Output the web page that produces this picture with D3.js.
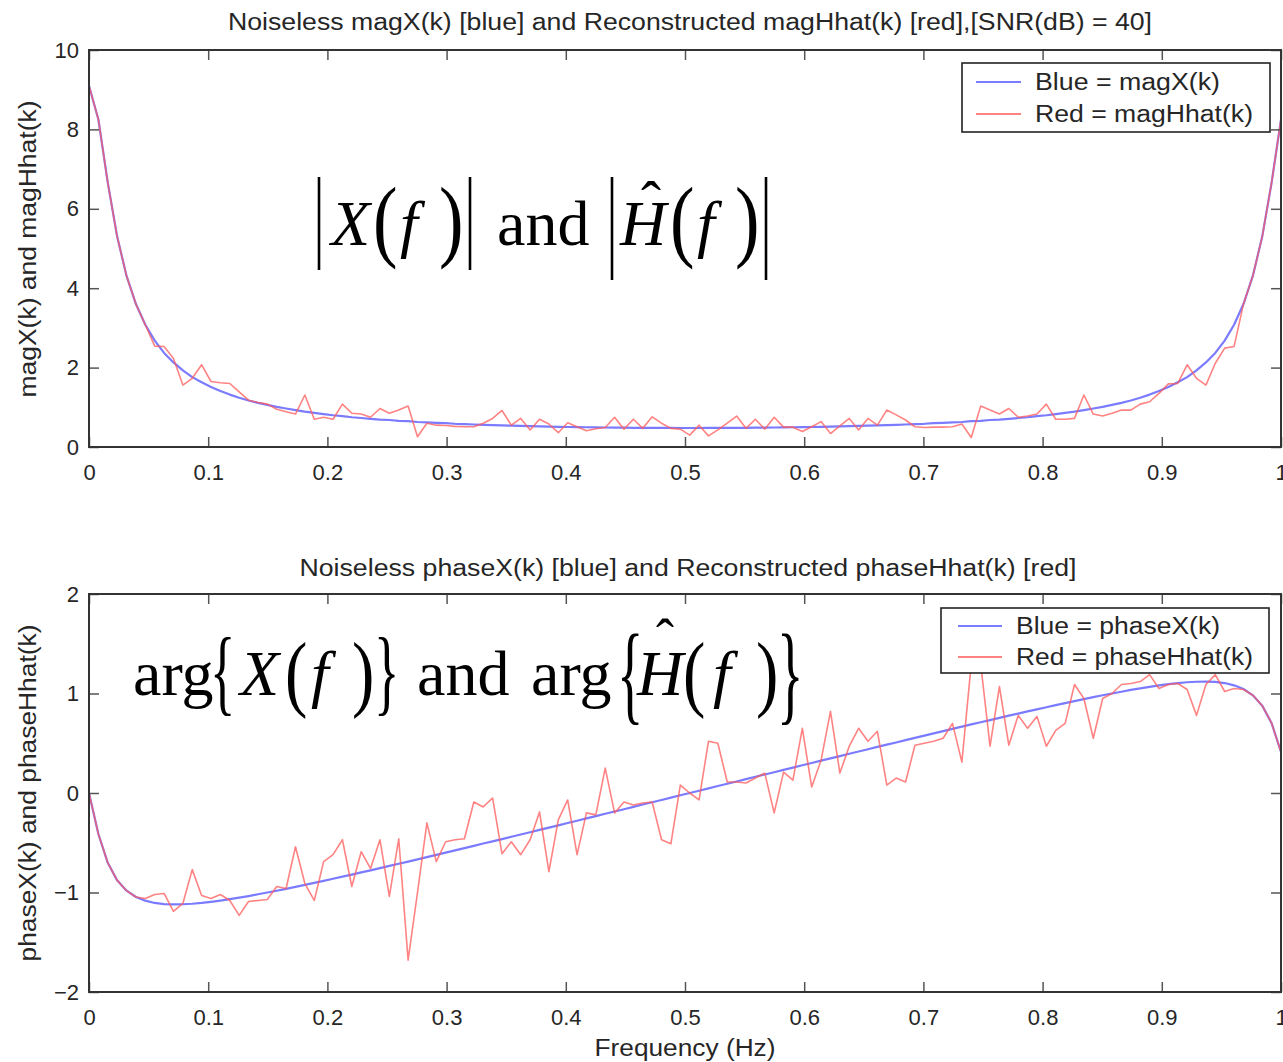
<!DOCTYPE html>
<html><head><meta charset="utf-8">
<script src="https://cdn.jsdelivr.net/npm/d3@7"></script>
<style>
html,body{margin:0;padding:0;background:#fff;}
svg{display:block;}
.sans{font-family:"Liberation Sans",Arial,Helvetica,sans-serif;fill:#262626;}
.serif{font-family:"Liberation Serif","Times New Roman",serif;fill:#000;}
</style></head><body>
<svg id="chart" width="1283" height="1062"></svg>
<script>
// ---------------- data ----------------
const sampleCount = 128;                       // DFT bins k = 0..127, spread over 0..1 Hz
const freqHz = d3.range(sampleCount).map(k => k / (sampleCount - 1));

const magX = [9.10,8.25,6.66,5.30,4.31,3.60,3.08,2.68,2.37,2.13,1.93,1.76,1.63,1.51,1.41,1.32,1.24,1.17,1.11,1.06,1.01,0.97,0.93,0.89,0.86,0.83,0.80,0.78,0.75,0.73,0.71,0.69,0.68,0.66,0.65,0.63,0.62,0.61,0.60,0.585,0.576,0.567,0.558,0.550,0.543,0.536,0.530,0.524,0.518,0.513,0.509,0.504,0.500,0.497,0.494,0.491,0.488,0.486,0.484,0.483,0.481,0.480,0.480,0.479,0.479,
0.479,0.480,0.480,0.481,0.483,0.484,0.486,0.488,0.491,0.494,0.497,0.500,0.504,0.509,0.513,0.518,0.524,0.530,0.536,0.543,0.550,0.558,0.567,0.576,0.585,0.60,0.61,0.62,0.63,0.65,0.66,0.68,0.69,0.71,0.73,0.75,0.78,0.80,0.83,0.86,0.89,0.93,0.97,1.01,1.06,1.11,1.17,1.24,1.32,1.41,1.51,1.63,1.76,1.93,2.13,2.37,2.68,3.08,3.60,4.31,5.30,6.66,8.25];

const magHhat = [9.10,8.25,6.66,5.30,4.31,3.60,3.08,2.54,2.53,2.23,1.56,1.73,2.07,1.65,1.62,1.60,1.39,1.18,1.12,1.08,0.95,0.89,0.83,1.31,0.70,0.75,0.70,1.08,0.85,0.83,0.75,0.97,0.85,0.93,1.03,0.26,0.60,0.55,0.54,0.52,0.51,0.51,0.60,0.72,0.92,0.55,0.72,0.43,0.70,0.58,0.36,0.61,0.51,0.41,0.46,0.49,0.75,0.45,0.70,0.47,0.76,0.60,0.47,0.45,0.30,
0.55,0.28,0.43,0.60,0.78,0.47,0.70,0.45,0.75,0.50,0.50,0.39,0.51,0.64,0.34,0.53,0.72,0.43,0.72,0.55,0.93,0.81,0.68,0.51,0.49,0.50,0.50,0.51,0.58,0.24,1.03,0.93,0.83,0.97,0.75,0.78,0.83,1.08,0.70,0.70,0.72,1.31,0.83,0.78,0.85,0.93,0.93,1.08,1.14,1.35,1.59,1.60,2.07,1.73,1.56,2.11,2.49,2.53,3.60,4.31,5.30,6.66,8.25];

const phaseX = [0,-0.412,-0.702,-0.878,-0.982,-1.045,-1.082,-1.105,-1.116,-1.120,-1.118,-1.113,-1.105,-1.094,-1.081,-1.067,-1.052,-1.036,-1.018,-1.000,-0.982,-0.963,-0.943,-0.923,-0.903,-0.883,-0.862,-0.841,-0.820,-0.798,-0.777,-0.755,-0.733,-0.711,-0.689,-0.667,-0.644,-0.622,-0.599,-0.577,-0.554,-0.531,-0.508,-0.486,-0.463,-0.440,-0.417,-0.394,-0.371,-0.348,-0.325,-0.302,-0.279,-0.255,-0.232,-0.209,-0.186,-0.163,-0.139,-0.116,-0.093,-0.070,-0.047,-0.023,0,
0.023,0.047,0.070,0.093,0.116,0.139,0.163,0.186,0.209,0.232,0.255,0.279,0.302,0.325,0.348,0.371,0.394,0.417,0.440,0.463,0.486,0.508,0.531,0.554,0.577,0.599,0.622,0.644,0.667,0.689,0.711,0.733,0.755,0.777,0.798,0.820,0.841,0.862,0.883,0.903,0.923,0.943,0.963,0.982,1.000,1.018,1.036,1.052,1.067,1.081,1.094,1.105,1.113,1.118,1.120,1.116,1.105,1.082,1.045,0.982,0.878,0.702,0.412];

const phaseHhat = [0,-0.412,-0.702,-0.878,-0.982,-1.045,-1.06,-1.02,-1.01,-1.19,-1.11,-0.77,-1.03,-1.06,-1.02,-1.08,-1.23,-1.09,-1.08,-1.07,-0.94,-0.96,-0.54,-0.91,-1.08,-0.69,-0.62,-0.47,-0.94,-0.59,-0.76,-0.47,-1.04,-0.46,-1.68,-1.00,-0.30,-0.69,-0.49,-0.47,-0.46,-0.09,-0.14,-0.05,-0.61,-0.49,-0.62,-0.47,-0.19,-0.79,-0.27,-0.07,-0.62,-0.20,-0.22,0.25,-0.20,-0.09,-0.12,-0.10,-0.09,-0.47,-0.51,0.08,0.00,
-0.07,0.52,0.50,0.11,0.11,0.10,0.15,0.20,-0.20,0.21,0.13,0.65,0.06,0.33,0.82,0.20,0.47,0.65,0.52,0.62,0.08,0.15,0.11,0.48,0.50,0.52,0.55,0.70,0.31,1.30,1.30,0.47,1.07,0.48,0.78,0.65,0.77,0.47,0.63,0.70,1.09,0.95,0.55,0.95,1.00,1.09,1.10,1.12,1.19,1.05,1.09,1.10,1.04,0.78,1.09,1.19,1.02,1.05,1.04,0.982,0.878,0.702,0.412];

const xTicks = [0,0.1,0.2,0.3,0.4,0.5,0.6,0.7,0.8,0.9,1];
const magTicks = [0,2,4,6,8,10];
const phaseTicks = [-2,-1,0,1,2];

const magTitle = "Noiseless magX(k) [blue] and Reconstructed magHhat(k) [red],[SNR(dB) = 40]";
const phaseTitle = "Noiseless phaseX(k) [blue] and Reconstructed phaseHhat(k) [red]";
const magYLabel = "magX(k) and magHhat(k)";
const phaseYLabel = "phaseX(k) and phaseHhat(k)";
const xLabel = "Frequency (Hz)";
const magLegend = ["Blue = magX(k)", "Red = magHhat(k)"];
const phaseLegend = ["Blue = phaseX(k)", "Red = phaseHhat(k)"];

// ---------------- drawing ----------------
const svg = d3.select("#chart");
const L = 89, R = 1281;
const x = d3.scaleLinear().domain([0, 1]).range([L, R]);

const blueCol = "rgba(100,100,255,0.85)";
const redCol = "rgba(255,90,90,0.75)";

function label(sel, len) {
  return sel.attr("textLength", len).attr("lengthAdjust", "spacingAndGlyphs");
}

function panel(cfg) {
  const y = d3.scaleLinear().domain(cfg.yDomain).range([cfg.bottom, cfg.top]);
  const g = svg.append("g");

  const line = d3.line().x((d, i) => x(freqHz[i])).y(d => y(d));
  g.append("path").datum(cfg.blue).attr("fill", "none").attr("stroke", blueCol)
    .attr("stroke-width", 2.2).attr("stroke-linejoin", "round").attr("d", line);
  g.append("path").datum(cfg.red).attr("fill", "none").attr("stroke", redCol)
    .attr("stroke-width", 1.6).attr("stroke-linejoin", "round").attr("d", line);

  const ax = g.append("g").attr("transform", `translate(0,${cfg.bottom})`)
    .call(d3.axisBottom(x).tickValues(xTicks).tickSizeInner(-10).tickSizeOuter(0).tickPadding(17)
      .tickFormat(d3.format("")));
  const axT = g.append("g").attr("transform", `translate(0,${cfg.top})`)
    .call(d3.axisTop(x).tickValues(xTicks).tickSizeInner(-10).tickSizeOuter(0).tickFormat(""));
  const ay = g.append("g").attr("transform", `translate(${L},0)`)
    .call(d3.axisLeft(y).tickValues(cfg.yTicks).tickSizeInner(-10).tickSizeOuter(0).tickPadding(10)
      .tickFormat(d3.format("d")));
  const ayR = g.append("g").attr("transform", `translate(${R},0)`)
    .call(d3.axisRight(y).tickValues(cfg.yTicks).tickSizeInner(-10).tickSizeOuter(0).tickFormat(""));
  [ax, axT, ay, ayR].forEach(a => {
    a.select(".domain").remove();
    a.selectAll("line").attr("stroke", "#555").attr("stroke-width", 1.5);
    a.selectAll("text").attr("class", "sans").attr("font-size", 22).attr("fill", "#262626");
  });
  g.append("rect").attr("x", L).attr("y", cfg.top).attr("width", R - L).attr("height", cfg.bottom - cfg.top)
    .attr("fill", "none").attr("stroke", "#333").attr("stroke-width", 2);

  label(g.append("text").attr("class", "sans").attr("x", cfg.titleX).attr("y", cfg.titleY)
    .attr("text-anchor", "middle").attr("font-size", 23).text(cfg.title), cfg.titleLen);
  label(g.append("text").attr("class", "sans")
    .attr("transform", `translate(36,${cfg.labelY}) rotate(-90)`)
    .attr("text-anchor", "middle").attr("font-size", 23).text(cfg.yLabel), cfg.labelLen);

  const lg = cfg.legend;
  g.append("rect").attr("x", lg.x).attr("y", lg.y).attr("width", lg.w).attr("height", lg.h)
    .attr("fill", "#fff").attr("stroke", "#222").attr("stroke-width", 1.6);
  [[blueCol, cfg.legendText[0], lg.row1, lg.len1], [redCol, cfg.legendText[1], lg.row2, lg.len2]]
    .forEach(([c, t, ry, len]) => {
      g.append("line").attr("x1", lg.lx1).attr("x2", lg.lx2).attr("y1", ry).attr("y2", ry)
        .attr("stroke", c).attr("stroke-width", 2);
      label(g.append("text").attr("class", "sans").attr("x", lg.tx).attr("y", ry + 8)
        .attr("font-size", 23).text(t), len);
    });
  return y;
}

panel({
  top: 50, bottom: 447, yDomain: [0, 10], yTicks: magTicks,
  blue: magX, red: magHhat, title: magTitle, titleX: 690, titleY: 30, titleLen: 924,
  yLabel: magYLabel, labelY: 249, labelLen: 297,
  legend: {x: 962, y: 63, w: 308, h: 69, lx1: 976, lx2: 1021, tx: 1035, row1: 82, row2: 114, len1: 185, len2: 218},
  legendText: magLegend
});
panel({
  top: 594, bottom: 992, yDomain: [-2, 2], yTicks: phaseTicks,
  blue: phaseX, red: phaseHhat, title: phaseTitle, titleX: 688, titleY: 576, titleLen: 777,
  yLabel: phaseYLabel, labelY: 793, labelLen: 337,
  legend: {x: 941, y: 608, w: 328, h: 65, lx1: 958, lx2: 1002, tx: 1016, row1: 626, row2: 657, len1: 204, len2: 237},
  legendText: phaseLegend
});

label(svg.append("text").attr("class", "sans").attr("x", 685).attr("y", 1056)
  .attr("text-anchor", "middle").attr("font-size", 23).text(xLabel), 181);

// ---------------- math annotations ----------------
function formula(pieces, bars) {
  const g = svg.append("g");
  pieces.forEach(p => {
    g.append("text").attr("class", "serif")
      .attr("transform", `translate(${p.x},${p.y}) scale(${p.sx || 1},1)`)
      .attr("font-size", p.s).attr("font-style", p.it ? "italic" : "normal").text(p.t);
  });
  (bars || []).forEach(b => {
    g.append("line").attr("x1", b[0]).attr("x2", b[0]).attr("y1", b[1]).attr("y2", b[2])
      .attr("stroke", "#000").attr("stroke-width", 2.6);
  });
}
formula([
  {t: "X", x: 331, y: 245, s: 64, it: true},
  {t: "(", x: 373, y: 250, s: 92, sx: 0.8},
  {t: "f", x: 400, y: 245, s: 64, it: true},
  {t: ")", x: 439, y: 250, s: 92, sx: 0.8},
  {t: "and", x: 497, y: 245, s: 64},
  {t: "H", x: 620, y: 245, s: 64, it: true},
  {t: "ˆ", x: 641, y: 222, s: 60},
  {t: "(", x: 670, y: 250, s: 92, sx: 0.8},
  {t: "f", x: 697, y: 245, s: 64, it: true},
  {t: ")", x: 735, y: 250, s: 92, sx: 0.8}
], [[319, 177, 270], [470, 177, 270], [612, 177, 280], [766, 177, 280]]);

formula([
  {t: "arg", x: 133, y: 695, s: 64},
  {t: "{", x: 210, y: 703, s: 96, sx: 0.55},
  {t: "X", x: 240, y: 695, s: 64, it: true},
  {t: "(", x: 285, y: 701, s: 84, sx: 0.8},
  {t: "f", x: 311, y: 695, s: 64, it: true},
  {t: ")", x: 352, y: 701, s: 84, sx: 0.8},
  {t: "}", x: 374, y: 703, s: 96, sx: 0.55},
  {t: "and", x: 417, y: 695, s: 64},
  {t: "arg", x: 531, y: 695, s: 64},
  {t: "{", x: 617, y: 710, s: 110, sx: 0.5},
  {t: "H", x: 637, y: 695, s: 64, it: true},
  {t: "ˆ", x: 656, y: 657, s: 54},
  {t: "(", x: 683, y: 701, s: 84, sx: 0.8},
  {t: "f", x: 713, y: 695, s: 64, it: true},
  {t: ")", x: 756, y: 701, s: 84, sx: 0.8},
  {t: "}", x: 777, y: 710, s: 110, sx: 0.5}
]);
</script>
</body></html>
